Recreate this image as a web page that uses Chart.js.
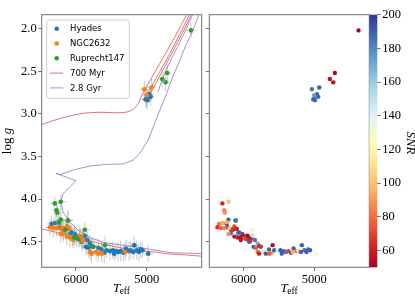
<!DOCTYPE html>
<html><head><meta charset="utf-8">
<script src="https://cdn.jsdelivr.net/npm/chart.js@4"></script>
<style>
html,body{margin:0;padding:0;background:#fff;}
#wrap{position:relative;width:415px;height:297px;overflow:hidden;}
canvas{position:absolute;left:0;top:0;}
</style></head><body>
<div id="wrap">
<canvas id="c1" width="415" height="297"></canvas>
<canvas id="c2" width="415" height="297"></canvas>
<canvas id="c3" width="415" height="297"></canvas>
</div>
<script>
// ---- tick labels ----
const xTicks = [6000, 5000];
const yTicks = [2.0, 2.5, 3.0, 3.5, 4.0, 4.5];
const cbTicks = [60, 80, 100, 120, 140, 160, 180, 200];
const seriesNames = ['Hyades', 'NGC2632', 'Ruprecht147'];
const isoNames = ['700 Myr', '2.8 Gyr'];

// ---- stars: [Teff, logg, SNR, errTeff, errLogg] ----
const hyades = [
[6345,4.29,80,70,0.10],[6297,4.28,95,75,0.11],[6226,4.33,190,70,0.10],[6180,4.36,60,80,0.12],
[6141,4.35,185,65,0.09],[6080,4.40,175,70,0.10],[6061,4.39,190,60,0.09],[6020,4.41,190,75,0.11],
[6000,4.43,55,70,0.10],[5960,4.47,185,65,0.10],[5943,4.45,190,70,0.11],[5920,4.50,190,60,0.09],
[5897,4.46,58,75,0.12],[5873,4.43,150,70,0.10],[5859,4.56,190,65,0.10],[5840,4.48,185,70,0.11],
[5826,4.57,75,75,0.12],[5802,4.52,170,60,0.09],[5755,4.56,190,70,0.10],[5685,4.57,120,65,0.11],
[5640,4.59,190,70,0.10],[5600,4.63,95,75,0.12],[5566,4.60,190,60,0.10],[5519,4.61,140,70,0.11],
[5480,4.60,190,65,0.10],[5460,4.64,190,70,0.09],[5434,4.61,190,60,0.10],[5402,4.62,185,70,0.11],
[5368,4.61,70,75,0.12],[5330,4.63,190,65,0.10],[5293,4.58,190,70,0.10],[5250,4.61,80,75,0.11],
[5227,4.60,110,65,0.10],[5190,4.62,190,70,0.09],[5176,4.54,190,60,0.10],[5142,4.60,185,70,0.11],
[5110,4.62,190,65,0.10],[5085,4.59,190,70,0.10],[5060,4.60,190,60,0.09],[4978,4.64,130,70,0.10],
[5000,2.82,185,60,0.10],[4990,2.84,185,65,0.11],[5014,2.83,190,60,0.10],[4963,2.77,190,60,0.10],
[4944,2.80,190,65,0.11]
];
const ngc2632 = [
[6370,4.33,65,70,0.10],[6320,4.34,75,75,0.11],[6275,4.34,85,70,0.10],[6240,4.29,60,70,0.10],
[6200,4.34,100,65,0.11],[6130,4.32,70,70,0.10],[6115,4.25,190,75,0.12],[6095,4.35,60,70,0.10],
[6180,4.40,185,65,0.10],[6215,4.41,90,70,0.11],[6130,4.44,55,70,0.10],[6085,4.45,60,75,0.11],
[6045,4.45,52,70,0.10],[6040,4.48,55,65,0.10],[5945,4.43,52,70,0.11],[5905,4.47,58,70,0.10],
[5905,4.49,65,75,0.12],[5800,4.62,80,70,0.10],[5780,4.64,60,70,0.11],[5715,4.62,110,65,0.10],
[5685,4.64,190,70,0.10],[5635,4.64,75,70,0.11],[5305,4.62,95,70,0.10],
[5034,2.71,185,60,0.10],[4930,2.69,190,60,0.10],[5000,2.78,175,65,0.11]
];
const ruprecht147 = [
[6300,4.05,62,70,0.08],[6215,4.03,100,75,0.09],[6275,4.13,85,70,0.08],[6265,4.16,88,70,0.09],
[6215,4.24,190,75,0.10],[6240,4.27,95,70,0.09],[6110,4.25,185,70,0.10],[6150,4.36,65,75,0.10],
[5875,4.36,120,70,0.09],[6025,4.45,55,70,0.10],[5990,4.46,70,75,0.10],[5780,4.55,65,70,0.09],
[5590,4.54,55,70,0.10],
[4780,2.59,55,65,0.10],[4732,2.63,55,60,0.10],[4709,2.52,52,60,0.09],[4374,2.02,52,70,0.08]
];

// ---- isochrones: [Teff, logg] ----
const iso700ms = [[6490,4.35],[6300,4.385],[6132,4.42],[5900,4.47],[5661,4.52],[5400,4.565],[5190,4.60],[4883,4.62],[4717,4.64],[4450,4.655],[4220,4.67]];
const iso700sgb = [[6490,3.125],[6297,3.072],[6132,3.033],[5901,2.993],[5661,2.981],[5425,2.986],[5293,2.98],[5194,2.948],[5123,2.884],[5067,2.778],[5000,2.681],[4883,2.508],[4742,2.303],[4600,2.094],[4445,1.851],[4400,1.78]];
const iso700rgb = [[5038,2.84],[4954,2.71],[4812,2.50],[4671,2.29],[4529,2.06],[4445,1.92],[4374,1.80]];
const iso700agb = [[5010,2.84],[4883,2.66],[4742,2.44],[4600,2.22],[4459,1.99],[4346,1.80]];
const iso28main = [[4220,4.64],[4647,4.629],[5119,4.566],[5590,4.512],[5802,4.453],[5972,4.363],[6085,4.269],[6184,4.151],[6216,4.031],[6184,3.94],[6085,3.854],[6000,3.784],[6283,3.697],[6226,3.712],[6038,3.658],[5802,3.611],[5566,3.592],[5331,3.588],[5190,3.541],[5095,3.462],[5024,3.365],[4978,3.306],[4907,3.15],[4812,2.954],[4717,2.758],[4628,2.555],[4529,2.367],[4445,2.191],[4364,2.054],[4289,1.898],[4247,1.80]];
const iso28agb = [[4840,2.744],[4766,2.563],[4671,2.391],[4529,2.156],[4416,1.957],[4331,1.80]];

// ---- styling ----
const C_BLUE='#1f77b4', C_ORANGE='#ff7f0e', C_GREEN='#2ca02c';
const C_RED='rgba(214,39,40,0.65)', C_PURPLE='rgba(148,103,189,0.75)';
const SERIF='"Liberation Serif", "DejaVu Serif", serif';
const SANS='"DejaVu Sans", sans-serif';
const RdYlBu=['#a50026','#d73027','#f46d43','#fdae61','#fee090','#ffffbf','#e0f3f8','#abd9e9','#74add1','#4575b4','#313695'];
const SNR_MIN=50, SNR_MAX=200;

function hex2rgb(h){return [parseInt(h.substr(1,2),16),parseInt(h.substr(3,2),16),parseInt(h.substr(5,2),16)];}
function cmap(v){
  let t=(v-SNR_MIN)/(SNR_MAX-SNR_MIN); t=Math.max(0,Math.min(1,t));
  const p=t*(RdYlBu.length-1); const i=Math.min(Math.floor(p),RdYlBu.length-2); const f=p-i;
  const a=hex2rgb(RdYlBu[i]), b=hex2rgb(RdYlBu[i+1]);
  return 'rgb('+a.map((c,k)=>Math.round(c+(b[k]-c)*f)).join(',')+')';
}
const toXY = arr => arr.map(p=>({x:p[0],y:p[1]}));

const XMIN=4222, XMAX=6485, YMIN=1.836, YMAX=4.80;
function xScale(h){return {type:'linear',reverse:true,min:XMIN,max:XMAX,
  afterBuildTicks:s=>{s.ticks=xTicks.map(v=>({value:v}));},
  ticks:{autoSkip:false,maxRotation:0,font:{family:SERIF,size:12.5},color:'#000',padding:1,callback:v=>String(v)},
  grid:{drawOnChartArea:false,drawTicks:true,tickLength:3.5,color:'#555',tickWidth:0.8},
  border:{display:false},afterFit:s=>{s.height=h;}};}
function yScale(w,labels){return {type:'linear',reverse:true,min:YMIN,max:YMAX,
  afterBuildTicks:s=>{s.ticks=yTicks.map(v=>({value:v}));},
  ticks:{autoSkip:false,font:{family:SERIF,size:12.5},color:'#000',padding:1.5,callback:v=>labels?v.toFixed(1):''},
  grid:{drawOnChartArea:false,drawTicks:true,tickLength:3.5,color:'#555',tickWidth:0.8},
  border:{display:false},afterFit:s=>{s.width=w;}};}

const framePlugin={id:'frame',afterDraw(chart){
  const a=chart.chartArea,ctx=chart.ctx; ctx.save(); ctx.strokeStyle='#707070'; ctx.lineWidth=1;
  ctx.strokeRect(a.left,a.top,a.right-a.left,a.bottom-a.top); ctx.restore();}};

const errPlugin={id:'errbars',beforeDatasetDraw(chart,args){
  const ds=chart.data.datasets[args.index]; if(!ds.errs) return;
  const xs=chart.scales.x, ys=chart.scales.y, a=chart.chartArea, ctx=chart.ctx;
  ctx.save(); ctx.beginPath(); ctx.rect(a.left,a.top,a.right-a.left,a.bottom-a.top); ctx.clip();
  ctx.strokeStyle='rgba(140,140,140,0.45)'; ctx.lineWidth=1;
  ds.errs.forEach(p=>{
    const px=xs.getPixelForValue(p[0]), py=ys.getPixelForValue(p[1]);
    ctx.beginPath();
    ctx.moveTo(xs.getPixelForValue(p[0]-p[3]),py); ctx.lineTo(xs.getPixelForValue(p[0]+p[3]),py);
    ctx.moveTo(px,ys.getPixelForValue(p[1]-p[4])); ctx.lineTo(px,ys.getPixelForValue(p[1]+p[4]));
    ctx.stroke();
  });
  ctx.restore();}};

function drawTeff(ctx,cx){
  ctx.save(); ctx.fillStyle='#000'; ctx.textBaseline='alphabetic';
  ctx.font='italic 13px '+SERIF; const wT=ctx.measureText('T').width;
  ctx.font='9.5px '+SERIF; const wE=ctx.measureText('eff').width;
  const x0=cx-(wT+wE)/2;
  ctx.font='italic 13px '+SERIF; ctx.fillText('T',x0,291.5);
  ctx.font='9.5px '+SERIF; ctx.fillText('eff',x0+wT-0.5,294);
  ctx.restore();
}

const legendPlugin={id:'mylegend',afterDraw(chart){
  const ctx=chart.ctx; ctx.save();
  const bx=46.7,by=20,bw=82.6,bh=78.3,r=3;
  ctx.beginPath(); ctx.roundRect(bx,by,bw,bh,r);
  ctx.fillStyle='rgba(255,255,255,0.85)'; ctx.fill();
  ctx.strokeStyle='#d0d0d0'; ctx.lineWidth=1; ctx.stroke();
  const rows=[28.7,43.5,58.3,73.1,87.9];
  const cols=[C_BLUE,C_ORANGE,C_GREEN];
  ctx.font='8.5px '+SANS; ctx.textBaseline='middle'; ctx.fillStyle='#000';
  for(let i=0;i<3;i++){
    ctx.beginPath(); ctx.arc(56.7,rows[i],2.3,0,Math.PI*2); ctx.fillStyle=cols[i]; ctx.fill();
    ctx.fillStyle='#000'; ctx.fillText(seriesNames[i],70,rows[i]+0.5);
  }
  const lc=[C_RED,C_PURPLE];
  for(let i=0;i<2;i++){
    ctx.beginPath(); ctx.moveTo(50,rows[3+i]); ctx.lineTo(63.3,rows[3+i]);
    ctx.strokeStyle=lc[i]; ctx.lineWidth=1; ctx.stroke();
    ctx.fillStyle='#000'; ctx.fillText(isoNames[i],70,rows[3+i]+0.5);
  }
  // axis labels
  ctx.save(); ctx.translate(11,141); ctx.rotate(-Math.PI/2);
  ctx.textBaseline='alphabetic';
  ctx.font='13px '+SERIF; const wl=ctx.measureText('log ').width;
  ctx.font='italic 13px '+SERIF; const wg=ctx.measureText('g').width;
  const s=-(wl+wg)/2;
  ctx.font='13px '+SERIF; ctx.fillText('log ',s,0);
  ctx.font='italic 13px '+SERIF; ctx.fillText('g',s+wl,0);
  ctx.restore();
  drawTeff(ctx,121.7);
  ctx.restore();}};

const lineDS=(label,data,color,tension)=>({label,data:toXY(data),showLine:true,borderColor:color,borderWidth:1,pointRadius:0,pointHoverRadius:0,tension,fill:false,order:10});
const ptDS=(label,arr,color,order)=>({label,data:toXY(arr),backgroundColor:color,borderWidth:0,pointRadius:2.3,pointHoverRadius:2.3,order,errs:arr});

const common={responsive:false,animation:false,devicePixelRatio:1,events:[],
  plugins:{legend:{display:false},tooltip:{enabled:false}}};

new Chart(document.getElementById('c1'),{type:'scatter',
  data:{datasets:[
    ptDS(seriesNames[0],hyades,C_BLUE,3),
    ptDS(seriesNames[1],ngc2632,C_ORANGE,2),
    ptDS(seriesNames[2],ruprecht147,C_GREEN,1),
    lineDS(isoNames[0],iso700ms,C_RED,0.25),
    lineDS(isoNames[0],iso700sgb,C_RED,0.25),
    lineDS(isoNames[0],iso700rgb,C_RED,0.25),
    lineDS(isoNames[0],iso700agb,C_RED,0.25),
    lineDS(isoNames[1],iso28main,C_PURPLE,0),
    lineDS(isoNames[1],iso28agb,C_PURPLE,0.25)
  ]},
  options:Object.assign({},common,{layout:{autoPadding:false,padding:{left:0,top:14.7,right:213.3,bottom:0}},
    scales:{x:xScale(29.7),y:yScale(41.7,true)}}),
  plugins:[errPlugin,framePlugin,legendPlugin]});

// right panel: all stars coloured by SNR
const allStars=hyades.concat(ngc2632,ruprecht147);
new Chart(document.getElementById('c2'),{type:'scatter',
  data:{datasets:[{label:'SNR',data:toXY(allStars),backgroundColor:allStars.map(p=>cmap(p[2])),borderWidth:0,pointRadius:2.2,pointHoverRadius:2.2}]},
  options:Object.assign({},common,{layout:{autoPadding:false,padding:{left:203.3,top:14.7,right:45.7,bottom:0}},
    scales:{x:xScale(29.7),y:yScale(6,false)}}),
  plugins:[framePlugin,{id:'teff2',afterDraw(chart){drawTeff(chart.ctx,289.3);}}]});

// colour bar
new Chart(document.getElementById('c3'),{type:'scatter',
  data:{datasets:[]},
  options:Object.assign({},common,{layout:{autoPadding:false,padding:{left:369.3,top:14.7,right:0,bottom:29.7}},
    scales:{
      x:{display:false,min:0,max:1},
      y:{position:'right',min:SNR_MIN,max:SNR_MAX,
        afterBuildTicks:s=>{s.ticks=cbTicks.map(v=>({value:v}));},
        ticks:{autoSkip:false,font:{family:SERIF,size:12.5},color:'#000',padding:1.5,callback:v=>String(v)},
        grid:{drawOnChartArea:false,drawTicks:true,tickLength:3.5,color:'#555',tickWidth:0.8},
        border:{display:false},afterFit:s=>{s.width=37.7;}}}}),
  plugins:[{id:'cbar',beforeDraw(chart){
    const a=chart.chartArea,ctx=chart.ctx,ys=chart.scales.y;
    const g=ctx.createLinearGradient(0,ys.getPixelForValue(SNR_MIN),0,ys.getPixelForValue(SNR_MAX));
    RdYlBu.forEach((c,i)=>g.addColorStop(i/(RdYlBu.length-1),c));
    ctx.save(); ctx.fillStyle=g; ctx.fillRect(a.left,a.top,a.right-a.left,a.bottom-a.top); ctx.restore();
  },afterDraw(chart){
    const ctx=chart.ctx; ctx.save(); ctx.translate(407,143); ctx.rotate(Math.PI/2);
    ctx.font='italic 13px '+SERIF; ctx.fillStyle='#000'; ctx.textAlign='center'; ctx.textBaseline='alphabetic';
    ctx.fillText('SNR',0,0); ctx.restore();
  }}]});
</script>
</body></html>
